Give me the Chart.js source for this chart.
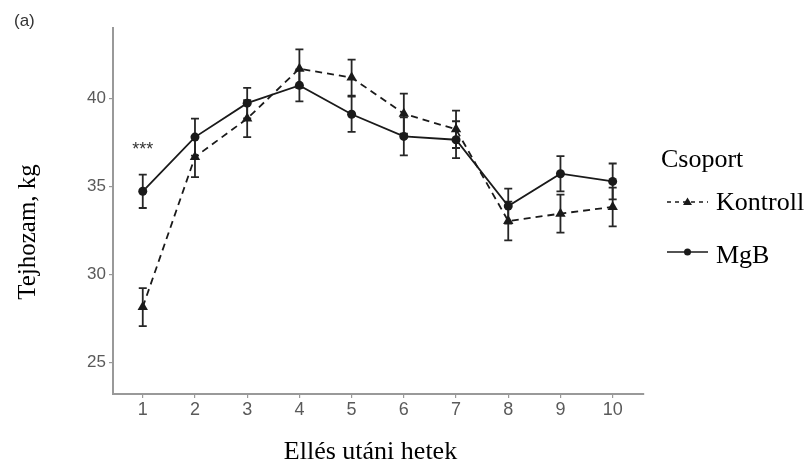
<!DOCTYPE html>
<html><head><meta charset="utf-8">
<script src="https://cdn.jsdelivr.net/npm/chart.js@4.4.0/dist/chart.umd.min.js"></script>
<style>html,body{margin:0;padding:0;background:#fff}#wrap{width:809px;height:468px;position:relative}</style>
</head><body>
<div id="wrap"><canvas id="c" width="809" height="468"></canvas></div>
<script>
// ---- data ----
const weeks = [1, 2, 3, 4, 5, 6, 7, 8, 9, 10];
const kontroll = [28.14, 36.67, 38.85, 41.69, 41.18, 39.13, 38.24, 33.03, 33.45, 33.83];
const kontrollSE = [1.08, 1.14, 1.05, 1.09, 1.02, 1.14, 1.06, 1.10, 1.08, 1.10];
const mgb = [34.72, 37.80, 39.73, 40.74, 39.10, 37.84, 37.65, 33.88, 35.72, 35.28];
const mgbSE = [0.95, 1.05, 0.87, 0.91, 1.00, 1.08, 1.05, 0.99, 1.00, 1.02];
const yTicks = [25, 30, 35, 40];
const seriesNames = ['Kontroll', 'MgB'];
const legendTitle = 'Csoport';
const xTitle = 'Ellés utáni hetek';
const yTitle = 'Tejhozam, kg';
const panelLabel = '(a)';
const signifWeek = 1;
const signifY = 37.25;
const signifText = '***';

const seList = [kontrollSE, mgbSE];
const SERIF = '"Liberation Serif", "Times New Roman", serif';
const SANS = '"Liberation Sans", Arial, sans-serif';
const INK = '#1a1a1a';

const errorBars = {
  id: 'errorBars',
  beforeDatasetsDraw(chart) {
    const { ctx, scales: { x, y } } = chart;
    chart.data.datasets.forEach((ds, di) => {
      const se = seList[di];
      ctx.save();
      ctx.strokeStyle = '#262626'; ctx.lineWidth = 1.8; ctx.setLineDash([]);
      ds.data.forEach((p, i) => {
        const px = x.getPixelForValue(p.x);
        const t = y.getPixelForValue(p.y + se[i]);
        const b = y.getPixelForValue(p.y - se[i]);
        ctx.beginPath();
        ctx.moveTo(px, t); ctx.lineTo(px, b);
        ctx.moveTo(px - 4, t); ctx.lineTo(px + 4, t);
        ctx.moveTo(px - 4, b); ctx.lineTo(px + 4, b);
        ctx.stroke();
      });
      ctx.restore();
    });
  }
};

const decorations = {
  id: 'decorations',
  afterDraw(chart) {
    const { ctx, scales: { x, y }, chartArea } = chart;
    ctx.save();
    // significance mark
    ctx.fillStyle = '#333';
    ctx.font = '18px ' + SANS;
    ctx.textAlign = 'center'; ctx.textBaseline = 'middle';
    ctx.fillText(signifText, x.getPixelForValue(signifWeek), y.getPixelForValue(signifY) + 3);
    // panel label
    ctx.fillStyle = '#333';
    ctx.font = '17px ' + SANS;
    ctx.textAlign = 'left';
    ctx.fillText(panelLabel, 14, 21);
    // axis titles
    ctx.fillStyle = '#000';
    ctx.font = '26px ' + SERIF;
    ctx.textAlign = 'center';
    ctx.fillText(xTitle, (chartArea.left + chartArea.right) / 2 - 8, 452);
    ctx.save();
    ctx.translate(28, 232);
    ctx.rotate(-Math.PI / 2);
    ctx.font = '25px ' + SERIF;
    ctx.fillText(yTitle, 0, 0);
    ctx.restore();
    // legend
    ctx.textAlign = 'left';
    ctx.font = '26px ' + SERIF;
    ctx.fillText(legendTitle, 661, 160);
    const rows = [{ y: 202, ds: chart.data.datasets[0] }, { y: 252, ds: chart.data.datasets[1] }];
    rows.forEach((r, i) => {
      ctx.save();
      ctx.strokeStyle = INK; ctx.lineWidth = 1.6;
      ctx.setLineDash(i === 0 ? [4, 4] : []);
      ctx.beginPath(); ctx.moveTo(667, r.y); ctx.lineTo(708, r.y); ctx.stroke();
      ctx.setLineDash([]);
      ctx.fillStyle = INK;
      ctx.beginPath();
      if (i === 0) {
        ctx.moveTo(687.5, r.y - 4.5); ctx.lineTo(692, r.y + 3); ctx.lineTo(683, r.y + 3); ctx.closePath();
      } else {
        ctx.arc(687.5, r.y, 3.5, 0, Math.PI * 2);
      }
      ctx.fill();
      ctx.restore();
      ctx.fillStyle = '#000';
      ctx.font = '26px ' + SERIF;
      ctx.fillText(r.ds.label, 716, r.y + 1 + i * 3);
    });
    ctx.restore();
  }
};

const toPts = arr => weeks.map((w, i) => ({ x: w, y: arr[i] }));

new Chart(document.getElementById('c'), {
  type: 'line',
  data: {
    datasets: [
      {
        label: seriesNames[0], data: toPts(kontroll),
        borderColor: INK, backgroundColor: INK, borderWidth: 1.8, borderDash: [7, 5],
        pointStyle: 'triangle', pointRadius: 6, pointBorderWidth: 0, tension: 0
      },
      {
        label: seriesNames[1], data: toPts(mgb),
        borderColor: INK, backgroundColor: INK, borderWidth: 1.8,
        pointStyle: 'circle', pointRadius: 4.5, pointBorderWidth: 0, tension: 0
      }
    ]
  },
  options: {
    responsive: false, animation: false,
    layout: { padding: { top: 28, right: 165, left: 0, bottom: 0 } },
    plugins: { legend: { display: false }, tooltip: { enabled: false } },
    scales: {
      x: {
        type: 'linear', min: 0.43, max: 10.6,
        afterBuildTicks: a => { a.ticks = weeks.map(v => ({ value: v })); },
        afterFit: s => { s.height = 74; },
        grid: { drawOnChartArea: false, drawTicks: true, tickLength: 4, color: '#999', lineWidth: 1.2 },
        border: { display: true, color: '#999', width: 2 },
        ticks: { color: '#5a5a5a', font: { family: SANS, size: 18 }, padding: 1, maxRotation: 0 }
      },
      y: {
        type: 'linear', min: 23.2, max: 44,
        afterBuildTicks: a => { a.ticks = yTicks.map(v => ({ value: v })); },
        afterFit: s => { s.width = 113; },
        grid: { drawOnChartArea: false, drawTicks: true, tickLength: 4, color: '#999', lineWidth: 1.2 },
        border: { display: true, color: '#999', width: 2 },
        ticks: { color: '#5a5a5a', font: { family: SANS, size: 17 }, padding: 3 }
      }
    }
  },
  plugins: [errorBars, decorations]
});
</script>
</body></html>
